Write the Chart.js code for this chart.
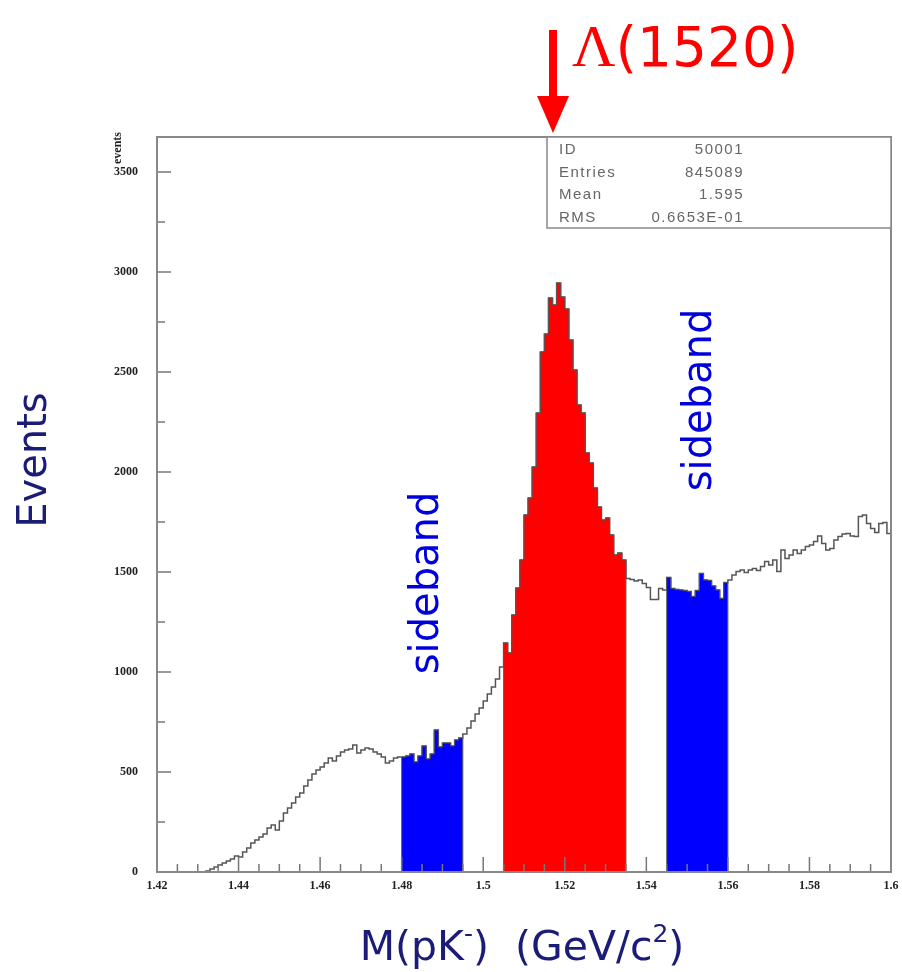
<!DOCTYPE html>
<html>
<head>
<meta charset="utf-8">
<script src="https://cdn.jsdelivr.net/npm/chart.js@4.4.1/dist/chart.umd.min.js"></script>
<style>
  html, body { margin: 0; padding: 0; background: #fff; }
  #wrap { width: 902px; height: 972px; position: relative; }
</style>
</head>
<body>
<div id="wrap"><canvas id="histChart" width="902" height="972"></canvas></div>
<script>
// histogram binning of M(pK-)
var binLow = 1.42;
var binWidth = 0.001;
// events per bin, 1.420 ... 1.599
var counts = [
    0, 0, 0, 0, 0, 0, 0, 0, 0, 0, 0, 0,
    5, 15, 25, 35, 45, 55, 65, 80, 75, 100,
    120, 145, 160, 175, 190, 220, 235, 210, 255, 295,
    320, 345, 375, 395, 430, 460, 490, 510, 525, 545,
    570, 555, 580, 600, 610, 615, 635, 595, 610, 620,
    615, 600, 590, 575, 545, 555, 570, 575,
    575, 580, 590, 550, 580, 630, 565, 590, 710, 625,
    645, 645, 630, 660, 670,
    690, 720, 755, 790, 820, 855, 890, 925, 965, 1025,
    1145, 1095, 1285, 1420, 1560, 1785, 1870, 2025, 2295, 2600,
    2690, 2870, 2835, 2945, 2875, 2815, 2660, 2510, 2335, 2295,
    2095, 2045, 1920, 1825, 1760, 1770, 1685, 1585, 1595, 1560,
    1468, 1463, 1455, 1460, 1443, 1423, 1363, 1363, 1418, 1410,
    1473, 1418, 1413, 1410, 1407, 1402, 1377, 1407, 1493, 1460,
    1457, 1430, 1410, 1368, 1447,
    1460, 1485, 1502, 1510, 1497, 1510, 1518, 1507, 1527, 1552,
    1535, 1560, 1502, 1610, 1568, 1585, 1610, 1593, 1610, 1627,
    1635, 1652, 1680, 1643, 1610, 1618, 1660, 1677, 1690, 1693,
    1680, 1677, 1777, 1785, 1743, 1718, 1697, 1743, 1747, 1693
];
// cut windows
var sideband1 = [1.480, 1.495];
var signalWin = [1.505, 1.535];
var sideband2 = [1.545, 1.560];

var xTicks = [1.42, 1.44, 1.46, 1.48, 1.5, 1.52, 1.54, 1.56, 1.58, 1.6];
var yTicks = [0, 500, 1000, 1500, 2000, 2500, 3000, 3500];

var statNames = ['ID', 'Entries', 'Mean', 'RMS'];
var statValues = ['50001', '845089', '1.595', '0.6653E-01'];

function edge(i) {
    return +(binLow + i * binWidth).toFixed(4);
}

// full outline: one point per lower edge, plus closing point
function outlinePoints() {
    var pts = [];
    for (var i = 0; i < counts.length; i++) {
        pts.push({ x: edge(i), y: counts[i] });
    }
    pts.push({ x: edge(counts.length), y: counts[counts.length - 1] });
    return pts;
}

// closed shape for a window, from zero up and back down
function windowPoints(win) {
    var i0 = Math.round((win[0] - binLow) / binWidth);
    var i1 = Math.round((win[1] - binLow) / binWidth);
    var pts = [{ x: edge(i0), y: 0 }];
    for (var i = i0; i < i1; i++) {
        pts.push({ x: edge(i), y: counts[i] });
    }
    pts.push({ x: edge(i1), y: counts[i1 - 1] });
    pts.push({ x: edge(i1), y: 0 });
    return pts;
}

var serif = "'Liberation Serif', 'DejaVu Serif', serif";
var sans = "'DejaVu Sans', Verdana, sans-serif";
var navy = '#1b1b78';

var decorPlugin = {
    id: 'decor',
    afterDatasetsDraw: function(chart) {
        var ctx = chart.ctx;
        var a = chart.chartArea;
        var xs = chart.scales.x, ys = chart.scales.y;
        ctx.save();

        // inward ticks
        ctx.strokeStyle = '#777';
        ctx.lineWidth = 1.5;
        ctx.beginPath();
        for (var k = 0; k <= 36; k++) {
            var v = 1.42 + k * 0.005;
            var px = xs.getPixelForValue(v);
            var len = (k % 4 === 0) ? 15 : 8;
            ctx.moveTo(px, a.bottom);
            ctx.lineTo(px, a.bottom - len);
        }
        for (var m = 0; m <= 14; m++) {
            var py = ys.getPixelForValue(m * 250);
            var l2 = (m % 2 === 0) ? 14 : 8;
            ctx.moveTo(a.left, py);
            ctx.lineTo(a.left + l2, py);
        }
        ctx.stroke();

        // frame
        ctx.strokeStyle = '#888';
        ctx.lineWidth = 2;
        ctx.strokeRect(a.left, a.top, a.right - a.left, a.bottom - a.top);

        // stats box
        var bx = 547, by = a.top, bw = a.right - 547, bh = 91;
        ctx.fillStyle = '#fff';
        ctx.fillRect(bx, by, bw, bh);
        ctx.strokeStyle = '#888';
        ctx.lineWidth = 1.5;
        ctx.strokeRect(bx, by, bw, bh);
        ctx.font = '15px ' + "'Liberation Sans', Arial, sans-serif";
        ctx.letterSpacing = '1.5px';
        ctx.fillStyle = '#666';
        ctx.textBaseline = 'middle';
        for (var r = 0; r < statNames.length; r++) {
            var ry = by + 13 + r * 22.5;
            ctx.textAlign = 'left';
            ctx.fillText(statNames[r], 559, ry);
            ctx.textAlign = 'right';
            ctx.fillText(statValues[r], 744, ry);
        }
        ctx.letterSpacing = '0px';

        // small "events" label
        ctx.save();
        ctx.translate(118, 148);
        ctx.rotate(-Math.PI / 2);
        ctx.font = 'bold 12px ' + serif;
        ctx.fillStyle = '#222';
        ctx.textAlign = 'center';
        ctx.textBaseline = 'middle';
        ctx.fillText('events', 0, 0);
        ctx.restore();

        // big axis titles
        ctx.save();
        ctx.translate(36, 460);
        ctx.rotate(-Math.PI / 2);
        ctx.font = '40px ' + sans;
        ctx.fillStyle = navy;
        ctx.textAlign = 'center';
        ctx.textBaseline = 'middle';
        ctx.fillText('Events', 0, 0);
        ctx.restore();

        var parts = [['M(pK', 0], ['-', 1], [')  (GeV/c', 0], ['2', 1], [')', 0]];
        var big = '41px ' + sans, small = '25px ' + sans;
        var total = 0;
        parts.forEach(function(p) {
            ctx.font = p[1] ? small : big;
            total += ctx.measureText(p[0]).width;
        });
        var tx = 522 - total / 2, base = 960;
        ctx.fillStyle = navy;
        ctx.textAlign = 'left';
        ctx.textBaseline = 'alphabetic';
        parts.forEach(function(p) {
            ctx.font = p[1] ? small : big;
            ctx.fillText(p[0], tx, p[1] ? base - 18 : base);
            tx += ctx.measureText(p[0]).width;
        });

        // sideband labels
        ctx.fillStyle = '#0000dd';
        ctx.font = '40px ' + sans;
        ctx.textAlign = 'center';
        ctx.textBaseline = 'middle';
        [[428, 583], [701, 400]].forEach(function(p) {
            ctx.save();
            ctx.translate(p[0], p[1]);
            ctx.rotate(-Math.PI / 2);
            ctx.fillText('sideband', 0, 0);
            ctx.restore();
        });

        // Lambda(1520) label and arrow
        ctx.fillStyle = '#ff0000';
        ctx.textAlign = 'left';
        ctx.textBaseline = 'alphabetic';
        ctx.font = '60px ' + serif;
        ctx.fillText('\u039B', 572, 66);
        var lw = ctx.measureText('\u039B').width;
        ctx.font = '55px ' + sans;
        ctx.fillText('(1520)', 572 + lw, 66);

        ctx.fillRect(549, 30, 8, 68);
        ctx.beginPath();
        ctx.moveTo(537, 96);
        ctx.lineTo(569, 96);
        ctx.lineTo(553, 133);
        ctx.closePath();
        ctx.fill();

        ctx.restore();
    }
};

var ctx = document.getElementById('histChart').getContext('2d');
var histChart = new Chart(ctx, {
    type: 'line',
    data: {
        datasets: [
            {
                label: 'sideband low',
                data: windowPoints(sideband1),
                stepped: 'before',
                fill: 'origin',
                backgroundColor: '#0000ff',
                borderColor: '#555',
                borderWidth: 1,
                pointRadius: 0
            },
            {
                label: 'signal',
                data: windowPoints(signalWin),
                stepped: 'before',
                fill: 'origin',
                backgroundColor: '#ff0000',
                borderColor: '#555',
                borderWidth: 1,
                pointRadius: 0
            },
            {
                label: 'sideband high',
                data: windowPoints(sideband2),
                stepped: 'before',
                fill: 'origin',
                backgroundColor: '#0000ff',
                borderColor: '#555',
                borderWidth: 1,
                pointRadius: 0
            },
            {
                label: 'M(pK-)',
                data: outlinePoints(),
                stepped: 'before',
                fill: false,
                borderColor: '#555',
                borderWidth: 1.5,
                pointRadius: 0
            }
        ]
    },
    options: {
        responsive: false,
        animation: false,
        layout: { padding: { left: 0, top: 137, right: 11, bottom: 0 } },
        plugins: {
            legend: { display: false },
            tooltip: { enabled: false }
        },
        scales: {
            x: {
                type: 'linear',
                min: 1.42,
                max: 1.6,
                afterFit: function(s) {
                    s.height = 100;
                    s.paddingLeft = 0;
                    s.paddingRight = 0;
                },
                afterBuildTicks: function(s) {
                    s.ticks = xTicks.map(function(v) { return { value: v }; });
                },
                grid: { display: false, drawTicks: false },
                border: { display: false },
                ticks: {
                    padding: 7,
                    maxRotation: 0,
                    autoSkip: false,
                    color: '#222',
                    font: { family: serif, size: 12, weight: 'bold' },
                    callback: function(v) { return String(+v.toFixed(2)); }
                }
            },
            y: {
                min: 0,
                max: 3675,
                afterFit: function(s) { s.width = 157; },
                afterBuildTicks: function(s) {
                    s.ticks = yTicks.map(function(v) { return { value: v }; });
                },
                grid: { display: false, drawTicks: false },
                border: { display: false },
                ticks: {
                    padding: 19,
                    autoSkip: false,
                    color: '#222',
                    font: { family: serif, size: 12, weight: 'bold' },
                    callback: function(v) { return String(v); }
                }
            }
        }
    },
    plugins: [decorPlugin]
});
</script>
</body>
</html>
